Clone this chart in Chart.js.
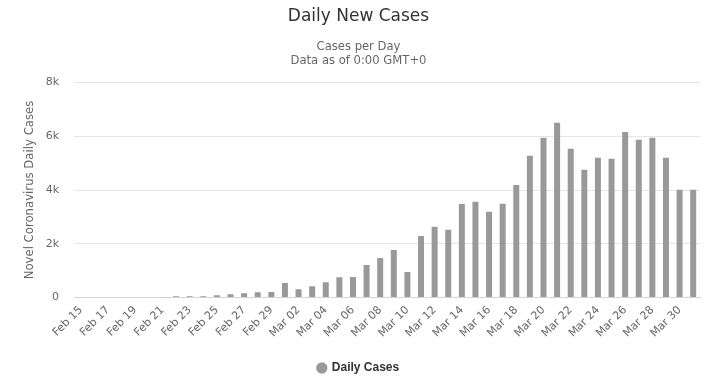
<!DOCTYPE html>
<html>
<head>
<meta charset="utf-8">
<script src="https://cdn.jsdelivr.net/npm/chart.js@4/dist/chart.umd.min.js"></script>
<style>
  html, body { margin: 0; padding: 0; background: #ffffff; }
  #wrap { width: 714px; height: 382px; position: relative; }
</style>
</head>
<body>
<div id="wrap"><canvas id="c" width="714" height="382"></canvas></div>
<script>
// ---- Data ----
const categories = [
  "Feb 15","Feb 16","Feb 17","Feb 18","Feb 19","Feb 20","Feb 21","Feb 22","Feb 23","Feb 24",
  "Feb 25","Feb 26","Feb 27","Feb 28","Feb 29",
  "Mar 01","Mar 02","Mar 03","Mar 04","Mar 05","Mar 06","Mar 07","Mar 08","Mar 09","Mar 10",
  "Mar 11","Mar 12","Mar 13","Mar 14","Mar 15","Mar 16","Mar 17","Mar 18","Mar 19","Mar 20",
  "Mar 21","Mar 22","Mar 23","Mar 24","Mar 25","Mar 26","Mar 27","Mar 28","Mar 29","Mar 30","Mar 31"
];
const dailyCases = [
  0, 0, 0, 0, 0, 0, 14, 50, 55, 50,
  90, 125, 165, 200, 205,
  540, 315, 425, 575, 760, 765, 1210, 1470, 1770, 950,
  2290, 2630, 2520, 3480, 3560, 3190, 3490, 4190, 5270, 5940,
  6500, 5530, 4750, 5200, 5160, 6160, 5870, 5940, 5200, 4010, 4010
];
const yTicks = [0, 2000, 4000, 6000, 8000];
const yTickLabels = ["0", "2k", "4k", "6k", "8k"];
const seriesName = "Daily Cases";
const titleText = "Daily New Cases";
const subtitleLines = ["Cases per Day", "Data as of 0:00 GMT+0"];
const yAxisTitle = "Novel Coronavirus Daily Cases";

const FONT = "'DejaVu Sans', sans-serif";

new Chart(document.getElementById('c'), {
  type: 'bar',
  data: {
    labels: categories,
    datasets: [{
      label: seriesName,
      data: dailyCases,
      backgroundColor: '#999999',
      borderWidth: 0,
      categoryPercentage: 1.0,
      barPercentage: 0.44
    }]
  },
  options: {
    responsive: false,
    animation: false,
    devicePixelRatio: 1,
    layout: { padding: { left: 17, right: 14, top: 0, bottom: -2 } },
    plugins: {
      title: {
        display: true,
        text: titleText,
        color: '#333333',
        font: { family: FONT, size: 17, weight: 'normal' },
        padding: { top: 6, bottom: 9 }
      },
      subtitle: {
        display: true,
        text: subtitleLines,
        color: '#666666',
        font: { family: FONT, size: 11.6, weight: 'normal', lineHeight: 1.25 },
        padding: { top: 4, bottom: 14 }
      },
      legend: {
        display: true,
        position: 'bottom',
        labels: {
          usePointStyle: true,
          pointStyle: 'circle',
          boxWidth: 8,
          boxHeight: 8,
          color: '#333333',
          font: { family: "'Liberation Sans', Arial, sans-serif", size: 12, weight: 'bold' },
          padding: 14
        }
      },
      tooltip: { enabled: false }
    },
    scales: {
      x: {
        offset: true,
        grid: { display: false, drawTicks: false },
        border: { display: true, color: '#ccd6eb', width: 1 },
        afterFit: function (scale) { scale.height = scale.height + 2; },
        ticks: {
          autoSkip: false,
          maxRotation: 45,
          minRotation: 45,
          padding: 6,
          color: '#666666',
          font: { family: FONT, size: 11 },
          callback: function (value, index) {
            return index % 2 === 0 ? categories[index] : '';
          }
        }
      },
      y: {
        min: 0,
        max: 8000,
        afterBuildTicks: function (scale) {
          scale.ticks = yTicks.map(v => ({ value: v }));
        },
        afterFit: function (scale) { scale.width = 57; },
        grid: { color: '#e6e6e6', drawTicks: false },
        border: { display: false },
        title: {
          display: true,
          text: yAxisTitle,
          color: '#666666',
          font: { family: FONT, size: 11.7, weight: 'normal' },
          padding: { top: 6, bottom: 4 }
        },
        ticks: {
          padding: 15,
          color: '#666666',
          font: { family: FONT, size: 11 },
          callback: function (value) {
            const i = yTicks.indexOf(value);
            return i >= 0 ? yTickLabels[i] : '';
          }
        }
      }
    }
  }
});
</script>
</body>
</html>
